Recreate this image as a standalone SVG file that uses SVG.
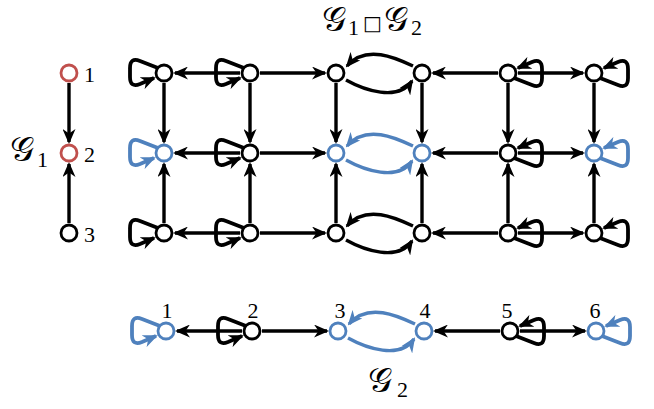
<svg xmlns="http://www.w3.org/2000/svg" xmlns:xlink="http://www.w3.org/1999/xlink" width="654" height="409" viewBox="0 0 654 409">
<style>
.e{fill:none;stroke:#000;stroke-width:3.4;marker-end:url(#ab)}
.eb{fill:none;stroke:#4f81bd;stroke-width:3.4;marker-end:url(#au)}
.lk{fill:none;stroke:#000;stroke-width:3.8;marker-end:url(#ab)}
.lb{fill:none;stroke:#4f81bd;stroke-width:3.8;marker-end:url(#au)}
.n{fill:#fff;stroke:#000;stroke-width:2.8}
.nb{fill:#fff;stroke:#4f81bd;stroke-width:2.8}
.nr{fill:#fff;stroke:#c0504d;stroke-width:2.8}
.m{font-family:"DejaVu Serif","Liberation Serif",serif;fill:#000;font-size:34px}
.sq{font-family:"DejaVu Sans","Liberation Sans",sans-serif;fill:#000;font-size:20px}
.d{font-family:"Liberation Serif",serif;font-size:22px;fill:#000}
</style>
<defs>
<marker id="ab" markerUnits="userSpaceOnUse" markerWidth="15" markerHeight="13" viewBox="0 0 15 13" refX="13" refY="6.5" orient="auto"><path d="M0,0 L15,6.5 L0,13 L4.5,6.5 Z" fill="#000"/></marker>
<marker id="au" markerUnits="userSpaceOnUse" markerWidth="15" markerHeight="13" viewBox="0 0 15 13" refX="13" refY="6.5" orient="auto"><path d="M0,0 L15,6.5 L0,13 L4.5,6.5 Z" fill="#4f81bd"/></marker>
<path id="loopL" d="M -6,-5 L -24,-12 Q -34,-16 -34,-5 L -34,4 Q -34,15 -24,11 L -10,5"/>
<path id="loopR" d="M 6,5 L 24,12 Q 34,16 34,5 L 34,-4 Q 34,-15 24,-11 L 10,-5"/>
</defs>

<g id="connectors">
<path class="e" d="M69,83 L69,142"/>
<path class="e" d="M69,223 L69,164"/>

<path class="e" d="M240,73 L175,73"/>
<path class="e" d="M260,73 L325,73"/>
<path class="e" d="M413,66 C396,58 366,44 347,66"/>
<path class="e" d="M346,80 C364,90 398,102 412,81"/>
<path class="e" d="M498,73 L433,73"/>
<path class="e" d="M518,73 L583,73"/>
<use href="#loopL" class="lk" x="164" y="73"/>
<use href="#loopL" class="lk" x="250" y="73"/>
<use href="#loopR" class="lk" x="508" y="73"/>
<use href="#loopR" class="lk" x="594" y="73"/>

<path class="e" d="M240,153 L175,153"/>
<path class="e" d="M260,153 L325,153"/>
<path class="eb" d="M413,146 C396,138 366,124 347,146"/>
<path class="eb" d="M346,160 C364,170 398,182 412,161"/>
<path class="e" d="M498,153 L433,153"/>
<path class="e" d="M518,153 L583,153"/>
<use href="#loopL" class="lb" x="164" y="153"/>
<use href="#loopL" class="lk" x="250" y="153"/>
<use href="#loopR" class="lk" x="508" y="153"/>
<use href="#loopR" class="lb" x="594" y="153"/>

<path class="e" d="M240,233 L175,233"/>
<path class="e" d="M260,233 L325,233"/>
<path class="e" d="M413,226 C396,218 366,204 347,226"/>
<path class="e" d="M346,240 C364,250 398,262 412,241"/>
<path class="e" d="M498,233 L433,233"/>
<path class="e" d="M518,233 L583,233"/>
<use href="#loopL" class="lk" x="164" y="233"/>
<use href="#loopL" class="lk" x="250" y="233"/>
<use href="#loopR" class="lk" x="508" y="233"/>
<use href="#loopR" class="lk" x="594" y="233"/>

<path class="e" d="M164,83 L164,142"/><path class="e" d="M164,223 L164,164"/>
<path class="e" d="M250,83 L250,142"/><path class="e" d="M250,223 L250,164"/>
<path class="e" d="M336,83 L336,142"/><path class="e" d="M336,223 L336,164"/>
<path class="e" d="M422,83 L422,142"/><path class="e" d="M422,223 L422,164"/>
<path class="e" d="M508,83 L508,142"/><path class="e" d="M508,223 L508,164"/>
<path class="e" d="M594,83 L594,142"/><path class="e" d="M594,223 L594,164"/>

<path class="e" d="M242,331 L177,331"/>
<path class="e" d="M262,331 L327,331"/>
<path class="eb" d="M415,324 C398,316 368,302 349,324"/>
<path class="eb" d="M348,338 C366,348 400,360 414,339"/>
<path class="e" d="M500,331 L435,331"/>
<path class="e" d="M520,331 L585,331"/>
<use href="#loopL" class="lb" x="166" y="331"/>
<use href="#loopL" class="lk" x="252" y="331"/>
<use href="#loopR" class="lk" x="510" y="331"/>
<use href="#loopR" class="lb" x="596" y="331"/>
</g>

<g id="G1-1"><circle class="nr" cx="69" cy="73" r="8"/><text class="d" x="84" y="82">1</text></g>
<g id="G1-2"><circle class="nr" cx="69" cy="153" r="8"/><text class="d" x="84" y="162">2</text></g>
<g id="G1-3"><circle class="n" cx="69" cy="233" r="8"/><text class="d" x="84" y="242">3</text></g>

<g id="p11"><circle class="n" cx="164" cy="73" r="8"/></g>
<g id="p12"><circle class="n" cx="250" cy="73" r="8"/></g>
<g id="p13"><circle class="n" cx="336" cy="73" r="8"/></g>
<g id="p14"><circle class="n" cx="422" cy="73" r="8"/></g>
<g id="p15"><circle class="n" cx="508" cy="73" r="8"/></g>
<g id="p16"><circle class="n" cx="594" cy="73" r="8"/></g>
<g id="p21"><circle class="nb" cx="164" cy="153" r="8"/></g>
<g id="p22"><circle class="n" cx="250" cy="153" r="8"/></g>
<g id="p23"><circle class="nb" cx="336" cy="153" r="8"/></g>
<g id="p24"><circle class="nb" cx="422" cy="153" r="8"/></g>
<g id="p25"><circle class="n" cx="508" cy="153" r="8"/></g>
<g id="p26"><circle class="nb" cx="594" cy="153" r="8"/></g>
<g id="p31"><circle class="n" cx="164" cy="233" r="8"/></g>
<g id="p32"><circle class="n" cx="250" cy="233" r="8"/></g>
<g id="p33"><circle class="n" cx="336" cy="233" r="8"/></g>
<g id="p34"><circle class="n" cx="422" cy="233" r="8"/></g>
<g id="p35"><circle class="n" cx="508" cy="233" r="8"/></g>
<g id="p36"><circle class="n" cx="594" cy="233" r="8"/></g>

<g id="G2-1"><circle class="nb" cx="166" cy="331" r="8"/><text class="d" x="167" y="318" text-anchor="middle">1</text></g>
<g id="G2-2"><circle class="n" cx="252" cy="331" r="8"/><text class="d" x="253" y="318" text-anchor="middle">2</text></g>
<g id="G2-3"><circle class="nb" cx="338" cy="331" r="8"/><text class="d" x="340" y="318" text-anchor="middle">3</text></g>
<g id="G2-4"><circle class="nb" cx="424" cy="331" r="8"/><text class="d" x="425" y="318" text-anchor="middle">4</text></g>
<g id="G2-5"><circle class="n" cx="510" cy="331" r="8"/><text class="d" x="507" y="318" text-anchor="middle">5</text></g>
<g id="G2-6"><circle class="nb" cx="596" cy="331" r="8"/><text class="d" x="595" y="318" text-anchor="middle">6</text></g>

<g id="labels">
<text class="m" x="322" y="31">𝒢</text>
<text class="d" x="348" y="35">1</text>
<text class="sq" x="363" y="30">□</text>
<text class="m" x="384" y="31">𝒢</text>
<text class="d" x="411" y="35">2</text>
<text class="m" x="10" y="161">𝒢</text>
<text class="d" x="37" y="167">1</text>
<text class="m" x="368" y="392">𝒢</text>
<text class="d" x="397" y="397">2</text>
</g>
</svg>
